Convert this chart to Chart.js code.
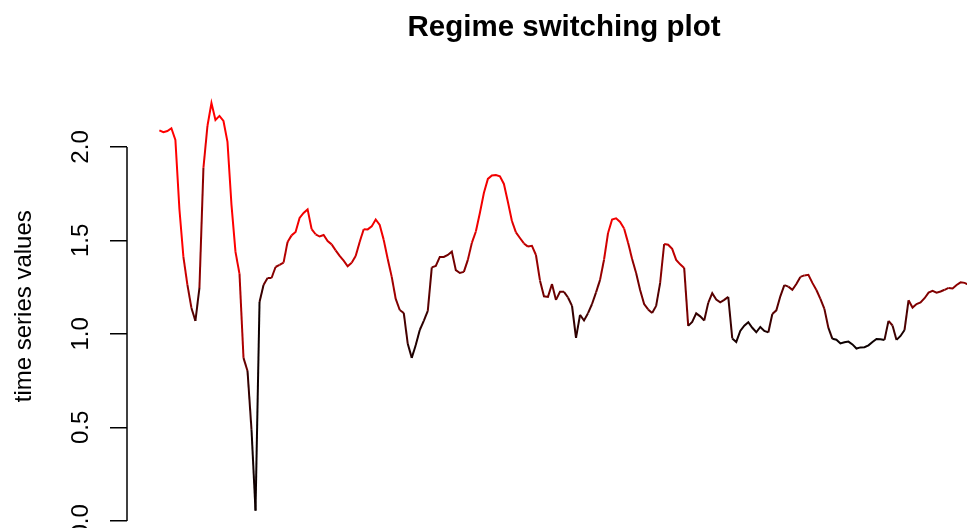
<!DOCTYPE html>
<html>
<head>
<meta charset="utf-8">
<script src="https://cdn.jsdelivr.net/npm/chart.js@4.4.1/dist/chart.umd.min.js"></script>
<style>
  html, body { margin: 0; padding: 0; background: #ffffff; overflow: hidden; }
  #wrap { width: 967px; height: 528px; overflow: hidden; position: relative; background: #ffffff; }
  #c { position: absolute; left: 0; top: 0; }
</style>
</head>
<body>
<div id="wrap"><canvas id="c" width="1128" height="560"></canvas></div>
<script>
// ---- data ----
const chartTitle = 'Regime switching plot';
const yAxisTitle = 'time series values';
const tickValues = [0, 0.5, 1, 1.5, 2];
const tickLabels = ['0.0', '0.5', '1.0', '1.5', '2.0'];

const seriesValues = [
  2.089, 2.079, 2.085, 2.100, 2.037, 1.668, 1.412, 1.262, 1.139, 1.070,
  1.246, 1.888, 2.112, 2.235, 2.144, 2.166, 2.139, 2.027, 1.690, 1.439,
  1.321, 0.872, 0.802, 0.487, 0.055, 1.171, 1.262, 1.299, 1.299, 1.358,
  1.369, 1.381, 1.492, 1.527, 1.545, 1.620, 1.647, 1.666, 1.561, 1.533,
  1.521, 1.529, 1.497, 1.479, 1.447, 1.417, 1.392, 1.362, 1.381, 1.417,
  1.492, 1.560, 1.559, 1.575, 1.612, 1.583, 1.503, 1.401, 1.305, 1.187,
  1.128, 1.112, 0.947, 0.872, 0.941, 1.021, 1.070, 1.123, 1.356, 1.364,
  1.412, 1.412, 1.422, 1.440, 1.341, 1.326, 1.332, 1.396, 1.487, 1.548,
  1.647, 1.754, 1.829, 1.847, 1.850, 1.843, 1.802, 1.706, 1.604, 1.543,
  1.513, 1.484, 1.467, 1.471, 1.422, 1.286, 1.201, 1.198, 1.267, 1.182,
  1.225, 1.225, 1.195, 1.150, 0.979, 1.102, 1.072, 1.111, 1.160, 1.222,
  1.289, 1.398, 1.540, 1.612, 1.618, 1.599, 1.564, 1.487, 1.401, 1.326,
  1.235, 1.160, 1.131, 1.112, 1.150, 1.273, 1.481, 1.477, 1.455, 1.396,
  1.372, 1.353, 1.043, 1.064, 1.110, 1.094, 1.072, 1.166, 1.218, 1.184,
  1.169, 1.182, 1.198, 0.976, 0.957, 1.016, 1.044, 1.063, 1.033, 1.009,
  1.037, 1.016, 1.008, 1.107, 1.126, 1.201, 1.261, 1.253, 1.236, 1.267,
  1.305, 1.313, 1.316, 1.273, 1.235, 1.187, 1.134, 1.032, 0.974, 0.969,
  0.949, 0.955, 0.959, 0.944, 0.922, 0.928, 0.929, 0.939, 0.957, 0.973,
  0.972, 0.968, 1.070, 1.045, 0.968, 0.989, 1.021, 1.180, 1.141, 1.160,
  1.168, 1.191, 1.221, 1.230, 1.221, 1.227, 1.236, 1.246, 1.243, 1.262,
  1.276, 1.273, 1.262
];

const regimeProb = [
  1, 1, 1, 1, 1, 1, 1, 0.6, 0.5, 0.2,
  0.3, 0.8, 1, 1, 1, 1, 1, 1, 1, 1,
  0.85, 0.5, 0.3, 0.1, 0.05, 0.05, 0.4, 0.45, 0.5, 0.55,
  0.6, 0.65, 0.75, 0.95, 0.95, 0.95, 0.95, 0.95, 0.95, 0.85,
  0.85, 0.85, 0.85, 0.85, 0.75, 0.75, 0.75, 0.75, 0.75, 0.8,
  0.8, 0.95, 0.95, 0.95, 0.95, 0.95, 0.95, 0.85, 0.7, 0.55,
  0.45, 0.35, 0.2, 0.1, 0.1, 0.15, 0.2, 0.25, 0.45, 0.45,
  0.45, 0.45, 0.45, 0.45, 0.45, 0.45, 0.45, 0.6, 0.75, 0.95,
  0.95, 0.95, 0.95, 0.95, 0.95, 0.95, 0.95, 0.95, 0.95, 0.8,
  0.8, 0.8, 0.7, 0.7, 0.7, 0.45, 0.45, 0.45, 0.45, 0.4,
  0.4, 0.4, 0.3, 0.3, 0.1, 0.25, 0.25, 0.25, 0.35, 0.35,
  0.5, 0.7, 0.95, 0.95, 0.95, 0.95, 0.95, 0.8, 0.65, 0.45,
  0.45, 0.45, 0.45, 0.35, 0.35, 0.3, 0.75, 0.75, 0.75, 0.75,
  0.75, 0.75, 0.2, 0.2, 0.2, 0.2, 0.2, 0.35, 0.35, 0.35,
  0.35, 0.35, 0.35, 0.1, 0.1, 0.1, 0.1, 0.1, 0.1, 0.1,
  0.1, 0.1, 0.1, 0.35, 0.35, 0.35, 0.35, 0.45, 0.45, 0.45,
  0.45, 0.6, 0.6, 0.6, 0.6, 0.45, 0.45, 0.3, 0.05, 0.05,
  0.05, 0.05, 0.05, 0.05, 0.05, 0.05, 0.05, 0.05, 0.05, 0.05,
  0.05, 0.05, 0.4, 0.4, 0.1, 0.1, 0.1, 0.5, 0.5, 0.5,
  0.5, 0.5, 0.5, 0.5, 0.5, 0.5, 0.5, 0.55, 0.55, 0.55,
  0.55, 0.55, 0.55
];

// ---- chart ----
const N = seriesValues.length;
const points = seriesValues.map((v, i) => ({ x: i + 1, y: v }));
const xPad = 0.04 * (N - 1);
const yMin = -0.038, yMax = 2.334;

function regimeColor(p) {
  const r = Math.round(255 * Math.max(0, Math.min(1, p)));
  return 'rgb(' + r + ',0,0)';
}

const axisLinePlugin = {
  id: 'rAxisLine',
  afterDraw(chart) {
    const y = chart.scales.y;
    const ctx = chart.ctx;
    const x = chart.chartArea.left;
    ctx.save();
    ctx.strokeStyle = '#000000';
    ctx.lineWidth = 1.5;
    ctx.beginPath();
    ctx.moveTo(x, y.getPixelForValue(tickValues[0]));
    ctx.lineTo(x, y.getPixelForValue(tickValues[tickValues.length - 1]));
    ctx.stroke();
    ctx.restore();
  }
};

new Chart(document.getElementById('c'), {
  type: 'line',
  data: {
    datasets: [{
      data: points,
      borderWidth: 2,
      pointRadius: 0,
      tension: 0,
      fill: false,
      borderColor: regimeColor(1),
      segment: {
        borderColor: (ctx) => regimeColor((regimeProb[ctx.p0DataIndex] + regimeProb[ctx.p1DataIndex]) / 2)
      }
    }]
  },
  options: {
    responsive: false,
    animation: false,
    devicePixelRatio: 1,
    layout: { padding: { top: 0, left: 0, right: 0, bottom: 32 } },
    plugins: {
      legend: { display: false },
      tooltip: { enabled: false },
      title: {
        display: true,
        text: chartTitle,
        color: '#000000',
        font: { family: 'Liberation Sans, Arial, sans-serif', size: 29.5, weight: 'bold', lineHeight: 1.2 },
        padding: { top: 10.5, bottom: 38.6 }
      }
    },
    scales: {
      x: {
        type: 'linear',
        display: false,
        min: 1 - xPad,
        max: N + xPad
      },
      y: {
        type: 'linear',
        position: 'left',
        min: yMin,
        max: yMax,
        afterBuildTicks(scale) { scale.ticks = tickValues.map(v => ({ value: v })); },
        afterFit(scale) {
          scale.width = 127;
          scale.paddingTop = 0; scale.paddingBottom = 0;
          scale.paddingLeft = 0; scale.paddingRight = 0;
        },
        border: { display: false },
        grid: {
          display: true,
          drawOnChartArea: false,
          drawTicks: true,
          tickLength: 17,
          color: '#000000',
          lineWidth: 1.5
        },
        ticks: {
          autoSkip: false,
          minRotation: 90,
          maxRotation: 90,
          crossAlign: 'center',
          padding: 12,
          color: '#000000',
          font: { family: 'Liberation Sans, Arial, sans-serif', size: 24 },
          callback: (value) => {
            const k = tickValues.indexOf(value);
            return k >= 0 ? tickLabels[k] : '';
          }
        },
        title: {
          display: true,
          text: yAxisTitle,
          color: '#000000',
          font: { family: 'Liberation Sans, Arial, sans-serif', size: 24, lineHeight: 1.2 },
          padding: { top: 10.3, bottom: 0 }
        }
      },
      y2: {
        type: 'linear',
        position: 'right',
        display: true,
        min: yMin,
        max: yMax,
        afterFit(scale) {
          scale.width = 127;
          scale.paddingTop = 0; scale.paddingBottom = 0;
          scale.paddingLeft = 0; scale.paddingRight = 0;
        },
        border: { display: false },
        grid: { display: false },
        ticks: { display: false }
      }
    }
  },
  plugins: [axisLinePlugin]
});
</script>
</body>
</html>
